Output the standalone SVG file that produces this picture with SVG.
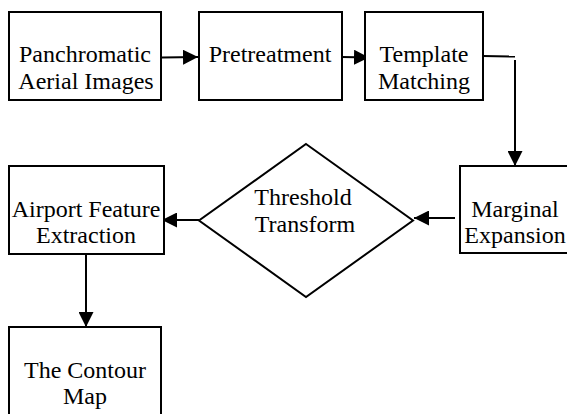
<svg xmlns="http://www.w3.org/2000/svg" width="567" height="414" viewBox="0 0 567 414">
<style>
.n{fill:#fff;stroke:#000;stroke-width:2}
.t{font-family:"Liberation Serif","Times New Roman",serif;font-size:24px;fill:#000;text-anchor:middle}
.c{fill:none;stroke:#000;stroke-width:2}
</style>
<defs>
<marker id="ah" viewBox="0 0 15 15" refX="15" refY="7.5" markerWidth="15" markerHeight="15" markerUnits="userSpaceOnUse" orient="auto">
<path d="M0,0 L15,7.5 L0,15 z" fill="#000"/>
</marker>
</defs>
<rect width="567" height="414" fill="#fff"/>
<g id="connectors">
<line class="c" x1="162" y1="57.5" x2="198" y2="57" marker-end="url(#ah)"/>
<line class="c" x1="342" y1="57" x2="369" y2="57.5" marker-end="url(#ah)"/>
<polyline class="c" points="483,56 515,56.5"/>
<line class="c" x1="515" y1="60" x2="515" y2="166" marker-end="url(#ah)"/>
<line class="c" x1="455" y1="218" x2="414" y2="218" marker-end="url(#ah)"/>
<line class="c" x1="199" y1="220" x2="162" y2="220" marker-end="url(#ah)"/>
<line class="c" x1="86" y1="254" x2="86" y2="327" marker-end="url(#ah)"/>
</g>
<g id="panchromatic">
<rect class="n" x="9" y="12" width="152" height="88"/>
<text class="t" x="85" y="62">Panchromatic</text>
<text class="t" x="86" y="89">Aerial Images</text>
</g>
<g id="pretreatment">
<rect class="n" x="199" y="12" width="143" height="88"/>
<text class="t" x="270" y="62">Pretreatment</text>
</g>
<g id="template">
<rect class="n" x="365" y="12" width="118" height="88"/>
<text class="t" x="424" y="62">Template</text>
<text class="t" x="424" y="89">Matching</text>
</g>
<g id="marginal">
<rect class="n" x="460" y="166" width="112" height="87"/>
<text class="t" x="515" y="217">Marginal</text>
<text class="t" x="515" y="243">Expansion</text>
</g>
<g id="threshold">
<polygon class="n" points="306,144 413,220.5 306,297 199,220.5"/>
<text class="t" x="303" y="205">Threshold</text>
<text class="t" x="305" y="232">Transform</text>
</g>
<g id="airport">
<rect class="n" x="9" y="166" width="155" height="88"/>
<text class="t" x="86" y="217">Airport Feature</text>
<text class="t" x="86" y="243">Extraction</text>
</g>
<g id="contour">
<rect class="n" x="9" y="327" width="152" height="95"/>
<text class="t" x="85" y="378">The Contour</text>
<text class="t" x="85" y="404">Map</text>
</g>
</svg>
